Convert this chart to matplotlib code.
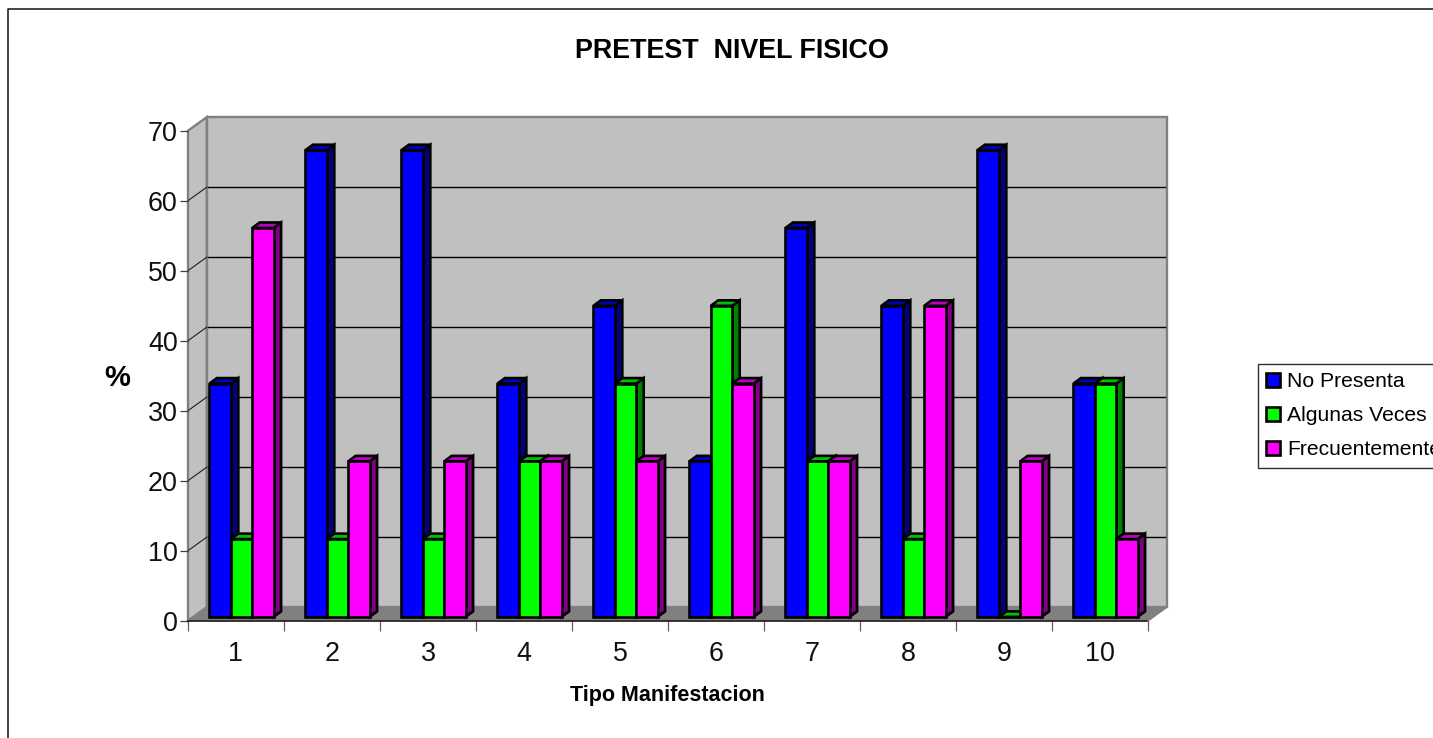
import matplotlib
matplotlib.use("Agg")
import matplotlib.pyplot as plt
from matplotlib.patches import Polygon, Patch
from matplotlib.lines import Line2D

plt.rcParams['font.family'] = ['Liberation Sans', 'DejaVu Sans']

categories = [1, 2, 3, 4, 5, 6, 7, 8, 9, 10]
no_presenta = [33.33, 66.67, 66.67, 33.33, 44.44, 22.22, 55.56, 44.44, 66.67, 33.33]
algunas_veces = [11.11, 11.11, 11.11, 22.22, 33.33, 44.44, 22.22, 11.11, 0, 33.33]
frecuentemente = [55.56, 22.22, 22.22, 22.22, 22.22, 33.33, 22.22, 44.44, 22.22, 11.11]
series_names = ['No Presenta', 'Algunas Veces', 'Frecuentemente']
series_values = [no_presenta, algunas_veces, frecuentemente]
front_colors = ['#0000ff', '#00ff00', '#ff00ff']
top_colors = ['#0000c0', '#00c000', '#c000c0']
side_colors = ['#000080', '#008000', '#800080']
y_ticks = [0, 10, 20, 30, 40, 50, 60, 70]

W, H = 1433, 738
fig = plt.figure(figsize=(W / 100, H / 100), dpi=100, facecolor='white')

# pixel geometry of the pseudo-3D box
X0, Y0, PX_CAT, PX_PCT = 188.0, 620.7, 96.0, 7.0
WALL_DX, WALL_DY = 18.7, 13.5
BAR_DX, BAR_DY = 7.5, 5.5
OFF_DX, OFF_DY = 5.5, 3.8
BAR_W = 21.4
EDGE = 1.9

ax = fig.add_axes([X0 / W, 1 - Y0 / H, (PX_CAT * 10 + WALL_DX) / W, (PX_PCT * 70 + WALL_DY) / H])
ax.set_xlim(0.5, 10.5 + WALL_DX / PX_CAT)
ax.set_ylim(0, 70 + WALL_DY / PX_PCT)
ax.patch.set_visible(False)
for s in ax.spines.values():
    s.set_visible(False)

ux = 1 / PX_CAT   # one pixel in category units
uy = 1 / PX_PCT   # one pixel in percent units
xl, xr = 0.5, 10.5
wdx, wdy = WALL_DX * ux, WALL_DY * uy
GRAY = '#808080'
WALL = '#c0c0c0'

# back wall, side wall, floor
ax.add_patch(Polygon([(xl + wdx, wdy), (xr + wdx, wdy), (xr + wdx, 70 + wdy), (xl + wdx, 70 + wdy)],
                     fc=WALL, ec=GRAY, lw=1.7, zorder=1, clip_on=False))
ax.add_patch(Polygon([(xl, 0), (xl + wdx, wdy), (xl + wdx, 70 + wdy), (xl, 70)],
                     fc=WALL, ec=GRAY, lw=1.7, zorder=1, clip_on=False))
ax.add_patch(Polygon([(xl, 0), (xr, 0), (xr + wdx, wdy), (xl + wdx, wdy)],
                     fc=GRAY, ec=GRAY, lw=1.0, zorder=1.5, clip_on=False))

# gridlines
for v in y_ticks[1:-1]:
    ax.plot([xl, xl + wdx], [v, v + wdy], color='#202020', lw=0.8, zorder=2)
    ax.plot([xl + wdx + 1.5 * ux, xr + wdx - 1.5 * ux], [v + wdy, v + wdy], color='black', lw=1.0, zorder=2)

# floor front edge
ax.plot([xl, xr], [0, 0], color='#202020', lw=1.2, zorder=2.5, clip_on=False)
ax.plot([xr, xr + wdx], [0, wdy], color=GRAY, lw=1.0, zorder=2.5, clip_on=False)

# bars
bw = BAR_W * ux
bdx, bdy = BAR_DX * ux, BAR_DY * uy
ox, oy = OFF_DX * ux, OFF_DY * uy
for s, vals in enumerate(series_values):
    for cat, v in zip(categories, vals):
        left = cat - 1.5 * bw + s * bw + ox
        right = left + bw
        top = v + oy
        z = 3 + 0.01 * s
        ax.add_patch(Polygon([(right, oy), (right + bdx, oy + bdy), (right + bdx, top + bdy), (right, top)],
                             fc=side_colors[s], ec='black', lw=EDGE, zorder=z, joinstyle='miter'))
        ax.add_patch(Polygon([(left, top), (right, top), (right + bdx, top + bdy), (left + bdx, top + bdy)],
                             fc=top_colors[s], ec='black', lw=EDGE, zorder=z, joinstyle='miter'))
        ax.add_patch(Polygon([(left, oy), (right, oy), (right, top), (left, top)],
                             fc=front_colors[s], ec='black', lw=EDGE, zorder=z + 0.001, joinstyle='miter'))

# ticks
ax.set_yticks(y_ticks)
ax.tick_params(axis='y', length=5.8, width=0.9, color='#404040', pad=1.5, labelsize=19.4, labelcolor='#111111')
ax.set_xticks(categories)
ax.set_xticklabels([str(c) for c in categories], color='#111111')
ax.tick_params(axis='x', which='major', length=0, pad=14.5, labelsize=19.4)
ax.set_xticks([c - 0.5 for c in categories] + [10.5], minor=True)
ax.tick_params(axis='x', which='minor', length=7.2, width=0.9, color='#606060')

# texts
fig.text(732 / W, 1 - 51 / H, 'PRETEST  NIVEL FISICO', fontsize=19.4, fontweight='bold', ha='center', va='center')
fig.text(667.5 / W, 1 - 696 / H, 'Tipo Manifestacion', fontsize=15.5, fontweight='bold', ha='center', va='center')
fig.text(117 / W, 1 - 378 / H, '%', fontsize=21, fontweight='bold', ha='center', va='center')

# outer chart frame
fig.add_artist(Line2D([7.5 / W, 7.5 / W, 1], [0, 1 - 9 / H, 1 - 9 / H], color='#111111', lw=1.1,
                      transform=fig.transFigure))

# legend
handles = [Patch(fc=c, ec='black', lw=EDGE) for c in front_colors]
leg = fig.legend(handles, series_names, loc='upper left', bbox_to_anchor=(1258 / W, 1 - 364 / H),
                 borderaxespad=0, fontsize=15.2, frameon=True, fancybox=False, edgecolor='#303030',
                 framealpha=1, handlelength=0.66, handleheight=0.66, handletextpad=0.32,
                 labelspacing=0.71, borderpad=0.40)
leg.get_frame().set_linewidth(1.0)

fig.savefig('out.png', dpi=100)
